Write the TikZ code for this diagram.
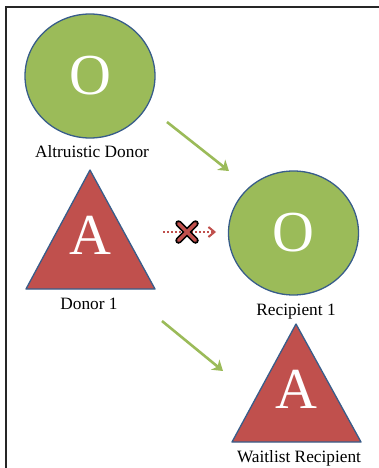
\documentclass[tikz,border=0pt]{standalone}
\usepackage{fontspec}
\setmainfont{Liberation Serif}
\usetikzlibrary{shapes.geometric,arrows.meta}
\definecolor{offGreen}{RGB}{155,187,89}
\definecolor{offRed}{RGB}{192,80,77}
\definecolor{ringBlue}{RGB}{56,93,138}
\tikzset{
  bloodO/.style={ellipse,draw=ringBlue,line width=1.3pt,fill=offGreen,text=white,
    font=\fontsize{58}{58}\selectfont,minimum width=130pt,minimum height=124pt,inner sep=0pt},
  bloodA/.style={draw=ringBlue,line width=1.3pt,fill=offRed,line join=round},
  letterA/.style={text=white,font=\fontsize{58}{58}\selectfont,inner sep=0pt},
  lbl/.style={anchor=base,font=\fontsize{17.3}{19}\selectfont,inner sep=0pt},
  match/.style={draw=offGreen,line width=2.6pt,-{Stealth[length=10pt,width=13pt,inset=3pt]}},
  nomatch/.style={draw=offRed,line width=2pt,dotted,-{Straight Barb[length=6pt,width=10pt,line width=2pt]}}
}
\begin{document}
\begin{tikzpicture}[x=1pt,y=-1pt]
    \useasboundingbox (0,0) rectangle (379,468);
    % frame
    \draw [line width=2.2pt,black!85] (6,468) -- (6,7) -- (379,7);

    % altruistic donor
    \node [bloodO] (altdonor) at (90,76) {O};
    \node [lbl] (altlbl) at (92,157) {Altruistic Donor};

    % donor 1
    \draw [bloodA] (90,170) -- (155,289) -- (26,289) -- cycle;
    \node [letterA] (donorA) at (90,235) {A};
    \node [lbl] (donorlbl) at (89,309) {Donor 1};

    % recipient 1
    \node [bloodO] (recip) at (293.5,233) {O};
    \node [lbl] (reciplbl) at (296,315) {Recipient 1};

    % waitlist recipient
    \draw [bloodA] (296,324) -- (361,442) -- (232,442) -- cycle;
    \node [letterA] (waitA) at (296,389) {A};
    \node [lbl] (waitlbl) at (299,462) {Waitlist Recipient};

    % arrows
    \coordinate (g1a) at (167,122); \coordinate (g1b) at (229,171);
    \coordinate (g2a) at (162,321); \coordinate (g2b) at (223,371);
    \coordinate (ra) at (163,232);  \coordinate (rb) at (216,232);
    \draw [match] (g1a) -- (g1b);
    \draw [match] (g2a) -- (g2b);
    \draw [nomatch] (ra) -- (rb);
    \node (cross) at (187,232) {};
    \draw [line width=6.5pt,black,line cap=round] (cross.center) ++(-8.5,-8.5) -- ++(17,17)
          (cross.center) ++(8.5,-8.5) -- ++(-17,17);
    \draw [line width=3.5pt,offRed,line cap=round] (cross.center) ++(-8.5,-8.5) -- ++(17,17)
          (cross.center) ++(8.5,-8.5) -- ++(-17,17);
\end{tikzpicture}
\end{document}
